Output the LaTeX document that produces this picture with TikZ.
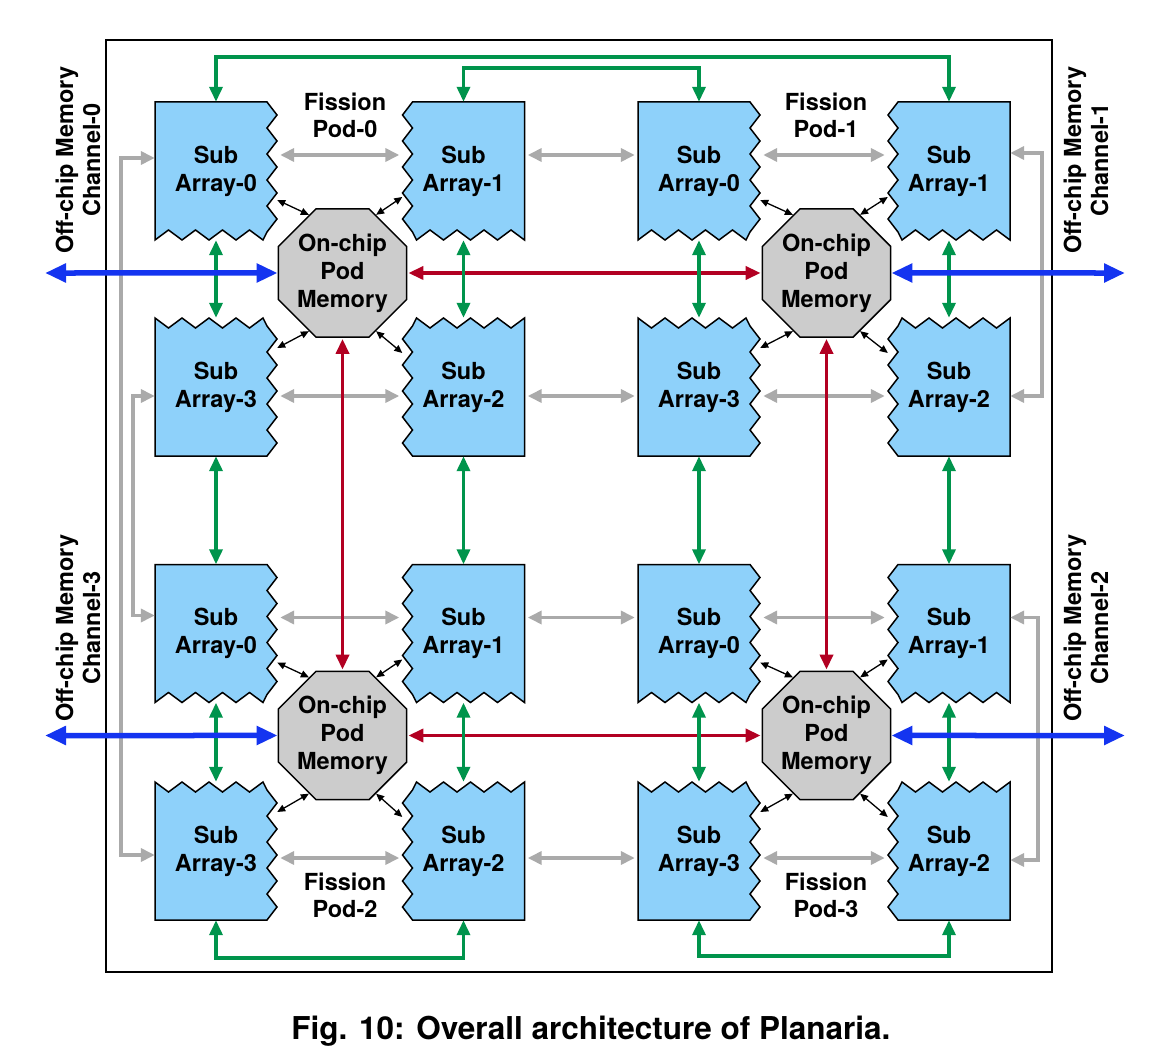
\documentclass[tikz,border=0pt]{standalone}
\usepackage{fontspec}
\setmainfont{TeX Gyre Heros}
\usepackage{tikz}
\usetikzlibrary{shapes,arrows.meta,positioning,calc,backgrounds}

\definecolor{subblue}{RGB}{142,209,250}
\definecolor{memgray}{RGB}{204,204,204}
\definecolor{linkgreen}{RGB}{0,148,76}
\definecolor{linkred}{RGB}{178,0,34}
\definecolor{chanblue}{RGB}{20,52,240}
\definecolor{linkgray}{RGB}{170,170,170}

\tikzset{
    subarr/.style={rectangle, minimum width=122pt, minimum height=138pt, inner sep=0pt, align=center, font={\fontsize{23.5}{28}\selectfont\bfseries}},
    subedge/.style={draw, fill=subblue, line width=1.5pt, line join=miter},
    podmem/.style={regular polygon, regular polygon sides=8, draw, fill=memgray, minimum size=135pt, inner sep=0pt, align=center, line width=1.5pt, font={\fontsize{23.5}{28}\selectfont\bfseries}},
    lbl/.style={align=center, font={\fontsize{23.5}{27}\selectfont\bfseries}},
    capt/.style={font={\fontsize{31.5}{36}\selectfont\bfseries}},
    grayline/.style={draw=linkgray, line width=3.5pt, {Triangle[length=14pt,width=13pt]}-{Triangle[length=14pt,width=13pt]}},
    greenline/.style={draw=linkgreen, line width=3.5pt, {Triangle[length=15pt,width=13pt]}-{Triangle[length=15pt,width=13pt]}},
    redline/.style={draw=linkred, line width=3.5pt, {Triangle[length=15pt,width=13pt]}-{Triangle[length=15pt,width=13pt]}, shorten <=1pt, shorten >=1pt},
    blueline/.style={draw=chanblue, line width=5.5pt, {Triangle[length=21pt,width=18pt]}-{Triangle[length=21pt,width=18pt]}},
    podline/.style={draw, line width=1.3pt, {Triangle[length=8pt,width=7pt]}-{Triangle[length=8pt,width=7pt]}}
}

\begin{document}
\begin{tikzpicture}[x=1pt, y=-1pt]
    \useasboundingbox (0,0) rectangle (1176,1062);
    \draw[line width=1.3pt] (106,40) rectangle (1052,972);

    % sub-arrays: outline with jagged edges towards the pod memory, then the label
    \foreach \n/\x/\y/\idx/\sx/\sy in {p0s0/216/171/0/1/1, p0s1/463.5/171/1/-1/1, p0s3/216/387/3/1/-1, p0s2/463.5/387/2/-1/-1,
        p1s0/699/171/0/1/1, p1s1/949/171/1/-1/1, p1s3/699/387/3/1/-1, p1s2/949/387/2/-1/-1,
        p2s0/216/633.5/0/1/1, p2s1/463.5/633.5/1/-1/1, p2s3/216/851/3/1/-1, p2s2/463.5/851/2/-1/-1,
        p3s0/699/633.5/0/1/1, p3s1/949/633.5/1/-1/1, p3s3/699/851/3/1/-1, p3s2/949/851/2/-1/-1}{
        \begin{scope}[shift={(\x,\y)}, xscale=\sx, yscale=\sy]
            \path[subedge] (-61,-69) -- (51,-69)
                \foreach \k in {1,...,5}{ -- ++(10,13) -- ++(-10,13) }
                -- ++(-4,8)
                \foreach \k in {1,...,4}{ -- ++(-13.5,-10) -- ++(-13.5,10) } -- cycle;
        \end{scope}
        \node[subarr] (\n) at (\x,\y) {Sub\\Array-\idx};
    }

    % on-chip pod memories
    \node[podmem] (m0) at (342.5,273) {On-chip\\Pod\\Memory};
    \node[podmem] (m1) at (826.5,273) {On-chip\\Pod\\Memory};
    \node[podmem] (m2) at (342.5,735.5) {On-chip\\Pod\\Memory};
    \node[podmem] (m3) at (826.5,735.5) {On-chip\\Pod\\Memory};

    \node[lbl] (fp0) at (345,115) {Fission\\Pod-0};
    \node[lbl] (fp1) at (826,115) {Fission\\Pod-1};
    \node[lbl] (fp2) at (345,895) {Fission\\Pod-2};
    \node[lbl] (fp3) at (826,895) {Fission\\Pod-3};

    \node[lbl, rotate=90] (ch0lbl) at (78,160) {Off-chip Memory\\Channel-0};
    \node[lbl, rotate=90] (ch1lbl) at (1086,160) {Off-chip Memory\\Channel-1};
    \node[lbl, rotate=90] (ch3lbl) at (78,628) {Off-chip Memory\\Channel-3};
    \node[lbl, rotate=90] (ch2lbl) at (1086,628) {Off-chip Memory\\Channel-2};

    \coordinate (ch0) at (45,273);
    \coordinate (ch1) at (1125,273);
    \coordinate (ch3) at (45,735.5);
    \coordinate (ch2) at (1125,735.5);

    % gray links between neighbouring sub-arrays
    \foreach \a/\b/\s in {p0s0/p0s1/16, p0s1/p1s0/16, p1s0/p1s1/16, p0s3/p0s2/-9, p0s2/p1s3/-9, p1s3/p1s2/-9,
        p2s0/p2s1/16, p2s1/p3s0/16, p3s0/p3s1/16, p2s3/p2s2/-7, p2s2/p3s3/-7, p3s3/p3s2/-7}
        \draw[grayline, shorten <=3pt, shorten >=3pt] ([yshift=\s pt]\a.east) -- ([yshift=\s pt]\b.west);
    \draw[grayline] ([yshift=13pt]p0s0.west) -- ++(-34,0) |- ([yshift=-4pt]p2s3.west);
    \draw[grayline] ([yshift=-9pt]p0s3.west) -- ++(-22,0) |- ([yshift=18pt]p2s0.west);
    \draw[grayline] ([yshift=18pt]p1s1.east) -- ++(32,0) |- ([yshift=-9pt]p1s2.east);
    \draw[grayline] ([yshift=16pt]p3s1.east) -- ++(28,0) |- ([yshift=-9pt]p3s2.east);

    % red links between pod memories
    \draw[redline] (m0.east) -- (m1.west);
    \draw[redline] (m2.east) -- (m3.west);
    \draw[redline] (m0.south) -- (m2.north);
    \draw[redline] (m1.south) -- (m3.north);

    % green links
    \foreach \a/\b in {p0s0/p0s3, p0s1/p0s2, p0s3/p2s0, p0s2/p2s1, p2s0/p2s3, p2s1/p2s2,
        p1s0/p1s3, p1s1/p1s2, p1s3/p3s0, p1s2/p3s1, p3s0/p3s3, p3s1/p3s2}
        \draw[greenline] (\a.south) -- (\b.north);
    \draw[greenline] (p0s0.north) -- ++(0,-45) -| (p1s1.north);
    \draw[greenline] (p0s1.north) -- ++(0,-34) -| (p1s0.north);
    \draw[greenline] (p2s3.south) -- ++(0,38) -| (p2s2.south);
    \draw[greenline] (p3s3.south) -- ++(0,36) -| (p3s2.south);

    % off-chip channels
    \draw[blueline] (ch0) -- (m0.west);
    \draw[blueline] (m1.east) -- (ch1);
    \draw[blueline] (ch3) -- (m2.west);
    \draw[blueline] (m3.east) -- (ch2);

    % sub-array <-> pod memory
    \foreach \k in {0,1,2,3}{
        \draw[podline] (m\k.120) -- ([yshift=-29pt]p\k s0.east);
        \draw[podline] (m\k.60) -- ([yshift=-26pt]p\k s1.west);
        \draw[podline] (m\k.240) -- ([yshift=39pt]p\k s3.east);
        \draw[podline] (m\k.300) -- ([yshift=34pt]p\k s2.west);
    }

    \node[capt] (caption) at (591,1031) {Fig. 10: Overall architecture of Planaria.};
\end{tikzpicture}
\end{document}
